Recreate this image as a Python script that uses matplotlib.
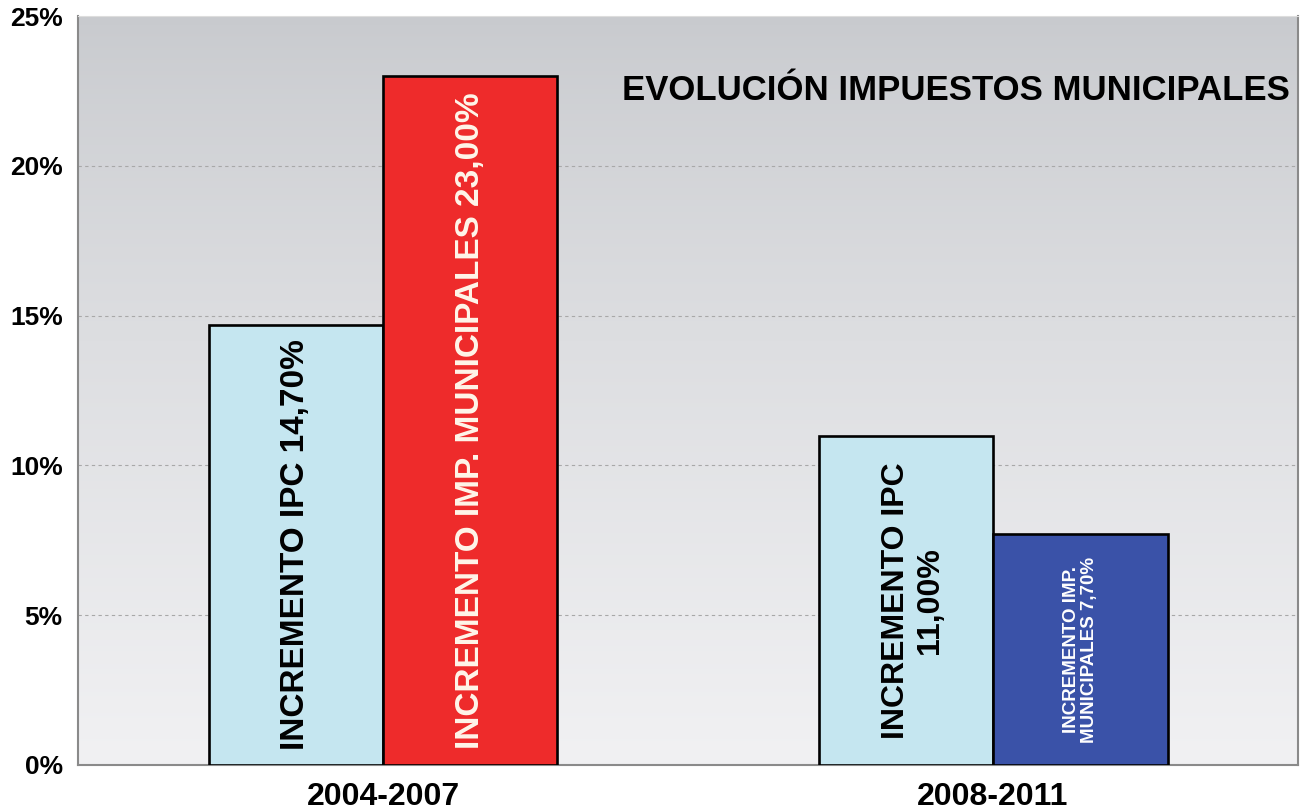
import numpy as np
import matplotlib
matplotlib.use("Agg")
import matplotlib.pyplot as plt

plt.rcParams['font.family'] = ['Liberation Sans', 'DejaVu Sans']
plt.rcParams['font.weight'] = 'bold'

# Data
periods = ['2004-2007', '2008-2011']
ipc = [14.70, 11.00]
impuestos = [23.00, 7.70]
ipc_labels = ['INCREMENTO IPC 14,70%', 'INCREMENTO IPC\n11,00%']
imp_labels = ['INCREMENTO IMP. MUNICIPALES 23,00%', 'INCREMENTO IMP.\nMUNICIPALES 7,70%']
imp_colors = ['#ee2b2b', '#3a52a8']
yticks = [0, 5, 10, 15, 20, 25]

fig = plt.figure(figsize=(13, 8.1), dpi=100)
ax = fig.add_axes([0.06, 0.0556, 0.9385, 0.9244])

# background gradient (grey top -> light bottom)
grad = np.linspace(0, 1, 256).reshape(-1, 1)
top = np.array([200, 202, 206]) / 255
bot = np.array([241, 241, 243]) / 255
img = top + (bot - top) * grad[:, :, None] ** 0.8
ax.imshow(img, extent=[-0.5, 1.5, 0, 25], aspect='auto', zorder=0)

x = np.arange(len(periods))
w = 0.286

ax.bar(x - w / 2, ipc, width=w, color='#c5e6f0', edgecolor='black',
       linewidth=1.9, zorder=3)
ax.bar(x + w / 2, impuestos, width=w, color=imp_colors, edgecolor='black',
       linewidth=1.9, zorder=3)

# labels inside bars
ipc_sizes = [24, 23]
imp_sizes = [24, 13.5]
imp_text_colors = ['#fff6ea', 'white']
for i in range(len(periods)):
    ax.text(x[i] - w / 2 + (0.012 if i == 1 else 0), ipc[i] / 2, ipc_labels[i],
            rotation=90, ha='center', va='center', fontsize=ipc_sizes[i],
            fontweight='bold', color='black', zorder=4, multialignment='center')
    ax.text(x[i] + w / 2, impuestos[i] / 2, imp_labels[i], rotation=90,
            ha='center', va='center', fontsize=imp_sizes[i],
            fontweight='bold', color=imp_text_colors[i],
            zorder=4, multialignment='center', linespacing=1.1)

ax.text(0.993, 0.901, 'EVOLUCIÓN IMPUESTOS MUNICIPALES', transform=ax.transAxes,
        ha='right', va='center', fontsize=25, fontweight='bold', zorder=4)

ax.set_xlim(-0.5, 1.5)
ax.set_ylim(0, 25)
ax.set_xticks(x)
ax.set_xticklabels(periods, fontsize=23, fontweight='bold')
ax.set_yticks(yticks)
ax.set_yticklabels([f'{t}%' for t in yticks], fontsize=19, fontweight='bold')
ax.tick_params(length=0)
ax.tick_params(axis='y', pad=11)
ax.tick_params(axis='x', pad=12)

for t in yticks[1:-1]:
    ax.axhline(t, color='#a8a8a8', linestyle=(0, (3, 3)), linewidth=0.8, zorder=1)

for side in ['left', 'bottom', 'right']:
    ax.spines[side].set_color('#8a8a8a')
    ax.spines[side].set_linewidth(1.5)
ax.spines['top'].set_color('#dddddd')

fig.savefig('out.png', dpi=100, facecolor='white')
